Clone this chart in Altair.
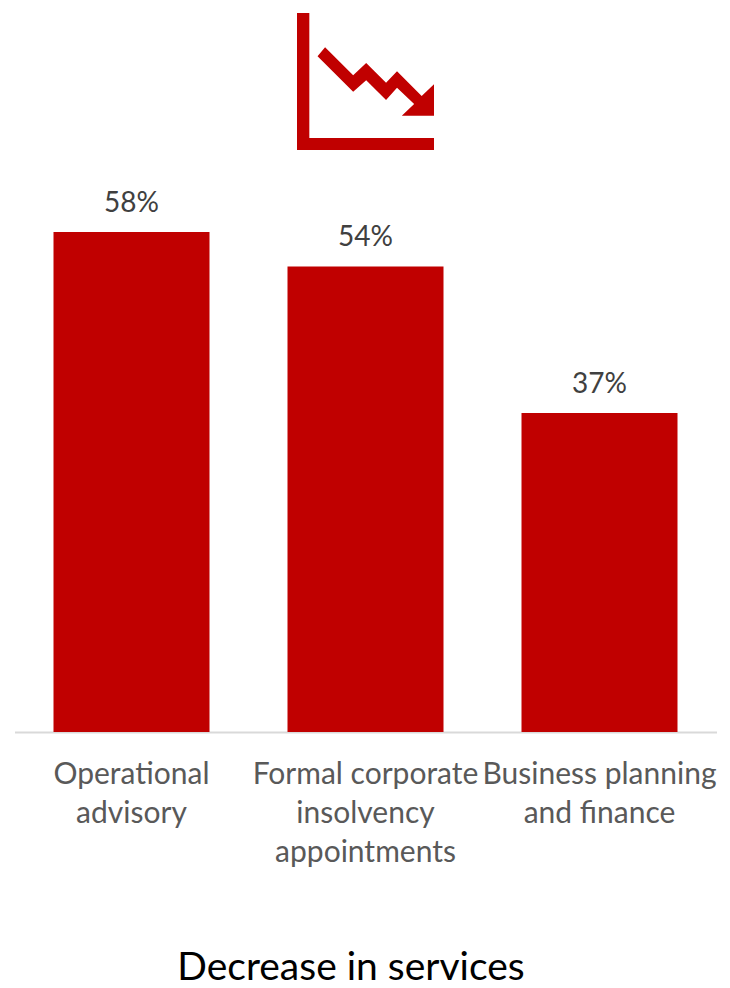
import altair as alt
import pandas as pd

categories = ["Operational|advisory", "Formal corporate|insolvency|appointments", "Business planning|and finance"]
values = [58, 54, 37]
value_labels = ["58%", "54%", "37%"]
chart_title = "Decrease in services"

RED = "#c00000"
FONT = "Lato"

# Falling-trend pictogram, outline in a normalised [-1, 1] square
icon_outline = [
    [(-1.0, -1.0), (-0.82, -1.0), (-0.82, 0.825), (1.0, 0.825), (1.0, 1.0), (-1.0, 1.0)],
    [(-0.59, -0.50), (-0.18, -0.09), (0.01, -0.27), (0.30, 0.02), (0.46, -0.15), (0.82, 0.21),
     (1.0, 0.04), (1.0, 0.50), (0.53, 0.50), (0.71, 0.33), (0.46, 0.09), (0.30, 0.27),
     (0.01, -0.02), (-0.18, 0.15), (-0.70, -0.37)],
]
icon_path = " ".join(
    "M" + " L".join(f"{x},{y}" for x, y in ring) + " Z" for ring in icon_outline
)

df = pd.DataFrame({"category": categories, "value": values, "label": value_labels})

x = alt.X(
    "category:N",
    sort=None,
    scale=alt.Scale(paddingInner=1 / 3, paddingOuter=1 / 6),
    axis=alt.Axis(
        title=chart_title,
        titleFont=FONT,
        titleFontSize=39,
        titleFontWeight="normal",
        titleColor="#000000",
        titleX=336,
        titleY=216,
        labelExpr="split(datum.label, '|')",
        labelFont=FONT,
        labelFontSize=30,
        labelColor="#595959",
        labelAngle=0,
        labelLimit=0,
        labelLineHeight=39,
        labelPadding=27,
        labelOverlap=False,
        ticks=False,
        domainColor="#d9d9d9",
        domainWidth=2,
    ),
)
y = alt.Y(
    "value:Q",
    scale=alt.Scale(domain=[0, 732 / (500 / 58)], nice=False),
    axis=None,
)

bars = alt.Chart(df).mark_bar(color=RED).encode(x=x, y=y)

bar_labels = (
    alt.Chart(df)
    .mark_text(font=FONT, fontSize=28, color="#404040", baseline="bottom", dy=-14)
    .encode(x=x, y=y, text="label:N")
)

icon = (
    alt.Chart(pd.DataFrame({"icon": ["trend"]}))
    .mark_point(shape=icon_path, filled=True, color=RED, opacity=1, size=137**2)
    .encode(x=alt.value(351), y=alt.value(81.5))
)

chart = (
    alt.layer(bars, bar_labels, icon)
    .properties(
        width=702,
        height=732,
        padding={"left": 14.5, "top": 0, "right": 13, "bottom": 256},
        autosize=alt.AutoSizeParams(type="none"),
    )
    .configure_view(stroke=None)
)

chart.save("out.html", embed_options={"renderer": "svg", "actions": False})
